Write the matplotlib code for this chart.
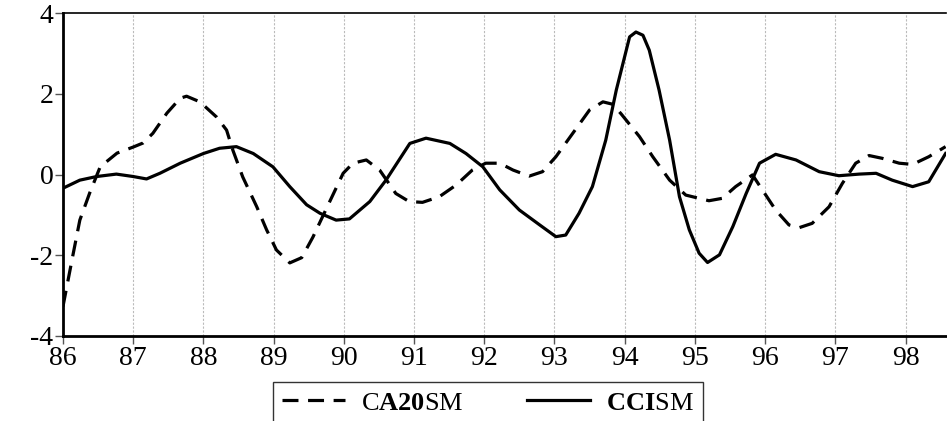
import numpy as np
import matplotlib
matplotlib.use("Agg")
import matplotlib.pyplot as plt

plt.rcParams['font.family'] = ['Liberation Serif', 'DejaVu Serif']
plt.rcParams['mathtext.fontset'] = 'custom'
plt.rcParams['mathtext.rm'] = 'Liberation Serif'
plt.rcParams['mathtext.bf'] = 'Liberation Serif:bold'

# CA20SM (dashed)
ca20_x = [86.0, 86.13, 86.24, 86.38, 86.53, 86.77, 87.0, 87.14, 87.28, 87.48, 87.67, 87.76,
          87.95, 88.19, 88.33, 88.42, 88.56, 88.76, 88.9, 89.04, 89.23, 89.4, 89.56, 89.75,
          89.99, 90.13, 90.32, 90.51, 90.74, 90.93, 91.12, 91.36, 91.6, 91.83, 92.02, 92.22,
          92.41, 92.64, 92.83, 93.02, 93.26, 93.5, 93.69, 93.83, 93.95, 94.21, 94.4, 94.64,
          94.87, 95.2, 95.39, 95.58, 95.82, 95.96, 96.15, 96.34, 96.48, 96.67, 96.91, 97.1,
          97.29, 97.48, 97.67, 97.91, 98.1, 98.33, 98.57]
ca20_y = [-3.27, -2.1, -1.13, -0.46, 0.19, 0.53, 0.68, 0.78, 1.02, 1.52, 1.89, 1.94,
          1.8, 1.42, 1.1, 0.6, -0.06, -0.8, -1.37, -1.87, -2.19, -2.06, -1.55, -0.85,
          0.03, 0.28, 0.36, 0.11, -0.47, -0.67, -0.69, -0.55, -0.26, 0.11, 0.28, 0.28,
          0.11, -0.04, 0.07, 0.44, 1.02, 1.6, 1.8, 1.74, 1.5, 0.94, 0.44, -0.14,
          -0.51, -0.65, -0.59, -0.3, -0.01, -0.38, -0.88, -1.25, -1.32, -1.21, -0.8, -0.22,
          0.28, 0.47, 0.4, 0.28, 0.25, 0.44, 0.69]

# CCISM (solid)
cci_x = [86.0, 86.24, 86.48, 86.76, 87.0, 87.19, 87.38, 87.67, 88.0, 88.23, 88.47, 88.71,
         88.99, 89.23, 89.47, 89.66, 89.89, 90.08, 90.37, 90.6, 90.94, 91.17, 91.51, 91.74,
         91.98, 92.22, 92.5, 92.79, 93.02, 93.16, 93.35, 93.54, 93.73, 93.88, 94.07, 94.16,
         94.26, 94.35, 94.49, 94.64, 94.78, 94.92, 95.06, 95.18, 95.35, 95.54, 95.73, 95.92,
         96.15, 96.44, 96.77, 97.05, 97.34, 97.58, 97.81, 98.1, 98.33, 98.57]
cci_y = [-0.34, -0.14, -0.05, 0.01, -0.05, -0.11, 0.03, 0.28, 0.52, 0.65, 0.69, 0.52,
         0.19, -0.3, -0.75, -0.96, -1.13, -1.1, -0.67, -0.14, 0.77, 0.9, 0.77, 0.52,
         0.19, -0.38, -0.88, -1.25, -1.54, -1.5, -0.96, -0.3, 0.85, 2.09, 3.41, 3.53,
         3.45, 3.08, 2.09, 0.85, -0.55, -1.37, -1.95, -2.18, -1.99, -1.29, -0.47, 0.28,
         0.5, 0.36, 0.07, -0.03, 0.01, 0.03, -0.14, -0.3, -0.18, 0.52]

years = list(range(86, 99))
yticks = [-4, -2, 0, 2, 4]

fig = plt.figure(figsize=(9.47, 4.21), dpi=100)
ax = fig.add_axes([0.0665, 0.202, 0.932, 0.767])

l1, = ax.plot(ca20_x, ca20_y, color='black', lw=2.3, ls=(0, (5, 3)),
              label=r'C$\mathbf{A20}$SM')
l2, = ax.plot(cci_x, cci_y, color='black', lw=2.3, label=r'$\mathbf{CCI}$SM')

ax.set_xlim(86, 98.57)
ax.set_ylim(-4, 4)
ax.set_xticks(years)
ax.set_xticklabels([str(y) for y in years])
ax.set_yticks(yticks)
ax.set_yticklabels([str(v) for v in yticks])
ax.tick_params(labelsize=20, length=6, width=1, color='#555555', pad=1)
ax.grid(axis='x', color='#bbbbbb', ls=(0, (2, 1.5)), lw=0.8)
for s in ['left', 'bottom']:
    ax.spines[s].set_linewidth(2)
ax.spines['top'].set_linewidth(1.2)
ax.spines['right'].set_visible(False)

fig.legend(handles=[l1, l2], loc='center', bbox_to_anchor=(0.515, 0.043),
           ncol=2, frameon=True, fancybox=False, edgecolor='black',
           fontsize=19, handlelength=2.4, columnspacing=2.4, borderpad=0.35,
           handletextpad=0.6, borderaxespad=0)
fig.savefig('out.png', dpi=100)
